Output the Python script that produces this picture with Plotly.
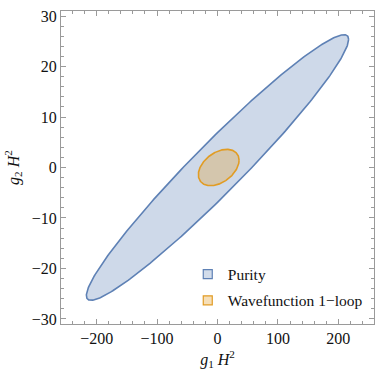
import numpy as np
import plotly.graph_objects as go

# Ellipse parameters: centre, half-extent along g1, half-extent along g2, correlation
series_names = ["Purity", "Wavefunction 1\u2212loop"]
center_x = [0.0, 2.0]
center_y = [0.0, 0.0]
half_x = [217.0, 33.7]
half_y = [26.3, 3.6]
correlation = [0.965, 0.40]

line_colors = ["#5E81B5", "#E19C24"]
fill_colors = ["rgba(94,129,181,0.30)", "rgba(225,156,36,0.30)"]
legend_fill = ["#D2DCEA", "#F6DFB8"]

x_ticks = [-200, -100, 0, 100, 200]
y_ticks = [-30, -20, -10, 0, 10, 20, 30]

FONT = "Liberation Serif"

t = np.linspace(0, 2 * np.pi, 361)
fig = go.Figure()
for i, name in enumerate(series_names):
    phi = np.arccos(correlation[i])
    xs = center_x[i] + half_x[i] * np.cos(t)
    ys = center_y[i] + half_y[i] * np.cos(t - phi)
    fig.add_trace(go.Scatter(
        x=xs, y=ys, mode="lines", fill="toself",
        fillcolor=fill_colors[i],
        line=dict(color=line_colors[i], width=1.6),
        showlegend=False, hoverinfo="skip",
    ))
for i, name in enumerate(series_names):
    fig.add_trace(go.Scatter(
        x=[None], y=[None], mode="markers", name=name,
        legendgroup=f"g{i}",
        marker=dict(symbol="square", size=9, color=legend_fill[i],
                    line=dict(color=line_colors[i], width=1.2)),
    ))

axis_common = dict(
    showgrid=False, zeroline=False, showline=True, linecolor="#9a9a9a",
    linewidth=1, mirror="allticks", ticks="inside", tickcolor="#9a9a9a",
    ticklen=5, tickwidth=1, automargin=False,
    tickfont=dict(family=FONT, size=16, color="#111"),
)

fig.update_xaxes(
    range=[-259, 259], tickvals=x_ticks, **axis_common,
    minor=dict(dtick=20, ticks="inside", ticklen=3, tickcolor="#9a9a9a", showgrid=False),
    title=dict(text="<i>g</i><sub>1</sub> <i>H</i><sup>2</sup>",
               font=dict(family=FONT, size=16, color="#111"), standoff=8),
)
fig.update_yaxes(
    range=[-31, 31], tickvals=y_ticks, **axis_common,
    minor=dict(dtick=2, ticks="inside", ticklen=3, tickcolor="#9a9a9a", showgrid=False),
    title=dict(text="<i>g</i><sub>2</sub> <i>H</i><sup>2</sup>",
               font=dict(family=FONT, size=16, color="#111"), standoff=8),
)

fig.update_layout(
    width=375, height=370,
    margin=dict(l=61, r=1, t=11, b=46),
    paper_bgcolor="white", plot_bgcolor="white",
    font=dict(family=FONT),
    legend=dict(x=0.405, y=0.212, xanchor="left", yanchor="top",
                font=dict(family=FONT, size=15.5, color="#111"),
                bgcolor="rgba(0,0,0,0)", tracegroupgap=3, itemwidth=30),
)

fig.write_html(
    "out.html",
    config={"displayModeBar": False},
    post_script="document.body.style.margin='0';document.body.style.overflow='hidden';",
)
